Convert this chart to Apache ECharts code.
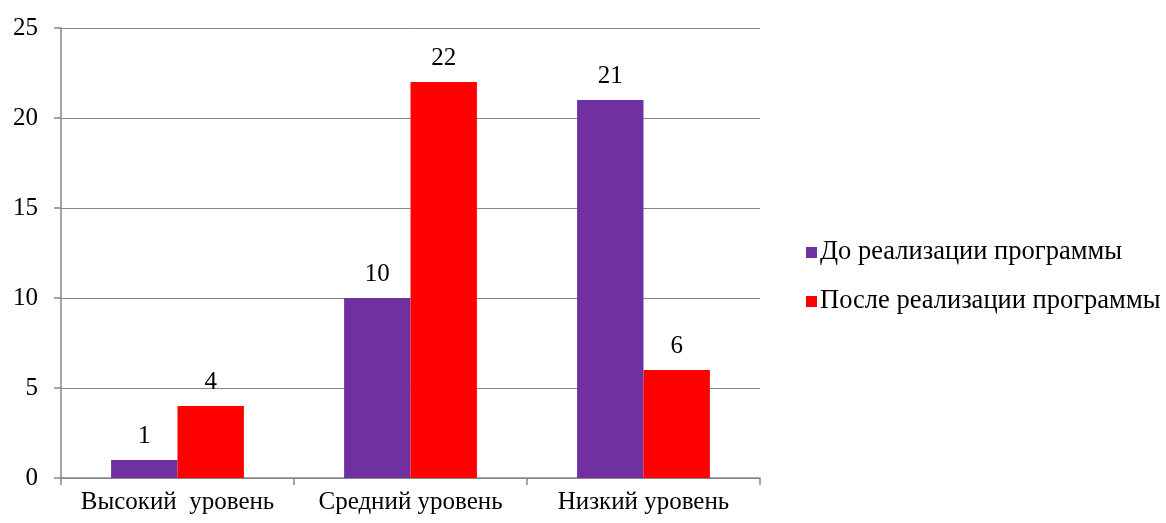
<!DOCTYPE html>
<html><head><meta charset="utf-8">
<script src="https://cdn.jsdelivr.net/npm/echarts@6/dist/echarts.min.js"></script>
<style>html,body{margin:0;padding:0;background:#fff}#c{width:1166px;height:523px}</style>
</head><body><div id="c"></div>
<script>
var categories = ['Высокий  уровень', 'Средний уровень', 'Низкий уровень'];
var seriesNames = ['До реализации программы', 'После реализации программы'];
var before = [1, 10, 21];
var after = [4, 22, 6];
var yTicks = {min: 0, max: 25, interval: 5};

var font = "'Liberation Serif', 'Times New Roman', serif";
var chart = echarts.init(document.getElementById('c'));
chart.setOption({
  animation: false,
  textStyle: {fontFamily: font},
  grid: {left: 61, right: 406, top: 28, bottom: 45, containLabel: false},
  legend: {
    orient: 'vertical', left: 801, top: 234,
    itemWidth: 11, itemHeight: 11, itemGap: 22, icon: 'rect',
    textStyle: {fontFamily: font, fontSize: 26.5, color: '#000', padding: [0,0,0,-2]},
    data: seriesNames
  },
  xAxis: {
    type: 'category', data: categories,
    axisLine: {lineStyle: {color: '#868686', width: 1.5}},
    axisTick: {show: true, interval: 0, length: 7, lineStyle: {color: '#868686', width: 1.5}},
    axisLabel: {interval: 0, fontFamily: font, fontSize: 25, color: '#000', margin: 12}
  },
  yAxis: {
    type: 'value', min: yTicks.min, max: yTicks.max, interval: yTicks.interval,
    axisLine: {show: true, lineStyle: {color: '#868686', width: 1.5}},
    axisTick: {show: true, length: 7, lineStyle: {color: '#868686', width: 1.5}},
    splitLine: {lineStyle: {color: '#868686', width: 1}},
    axisLabel: {fontFamily: font, fontSize: 25, color: '#000', margin: 23}
  },
  series: [
    {name: seriesNames[0], type: 'bar', data: before, barGap: '0%', barCategoryGap: '43%',
     itemStyle: {color: '#7030A0'},
     label: {show: true, position: 'top', distance: 11, fontFamily: font, fontSize: 25, color: '#000'}},
    {name: seriesNames[1], type: 'bar', data: after,
     itemStyle: {color: '#FF0000'},
     label: {show: true, position: 'top', distance: 11, fontFamily: font, fontSize: 25, color: '#000'}}
  ]
});
</script></body></html>
